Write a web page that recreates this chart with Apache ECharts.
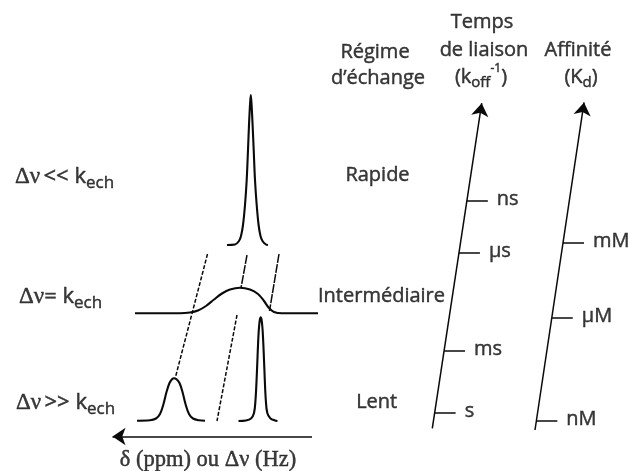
<!DOCTYPE html>
<html><head><meta charset="utf-8">
<script src="https://cdn.jsdelivr.net/npm/echarts/dist/echarts.min.js"></script>
<style>html,body{margin:0;padding:0;background:#fff}#c{width:628px;height:471px}</style>
</head><body><div id="c"></div>
<script>
// ---- Data (x = shift position, y = drawing depth) ----
const fastSpectrum = [[227,245],[235,244.5],[239,241],[241,236],[243,225],[245,205],[246.7,180],[248,150],[249,125],[250,105],[250.8,95],[251.6,105],[252.6,125],[253.7,150],[255,180],[256.7,205],[258.6,225],[260.5,236],[262.5,241],[266,244.5],[268,245]];
const intermediateSpectrum = [[135,313.3],[180,313.3],[190,312.5],[198,310.5],[206,306],[214,299.5],[222,293.5],[230,289.5],[240,287.7],[250,289.5],[258,294],[264,301],[269,308],[274,312],[282,313.3],[318,313.3]];
const slowSpectrumA = [[137,420.7],[150,420.3],[156,418.5],[160,414],[163.5,404],[166.5,392],[169.5,383],[172,379.3],[174,378.3],[176.5,379.3],[179.5,383],[182.5,392],[185.5,404],[189,414],[193,418.5],[199,420.3],[205,420.7]];
const slowSpectrumB = [[238.5,421],[246,420.5],[251,418.5],[254,413],[255.5,400],[256.8,375],[257.8,350],[258.8,330],[259.8,320],[260.7,317.3],[261.6,320],[262.6,330],[263.6,350],[264.6,375],[265.8,400],[267.3,413],[270.5,418.5],[275,420.5],[277.5,421]];
const guideLineA = [[207.5,254],[175.5,377]];
const guideLineB = [[247,255],[241,288]];
const guideLineC = [[279,254],[269.5,311]];
const guideLineD = [[237,315],[217,421]];

const regimeLabels = ['Rapide','Intermédiaire','Lent'];
const timeTickLabels = ['ns','μs','ms','s'];
const timeTickLevels = [201,253,351,413];
const affinityTickLabels = ['mM','μM','nM'];
const affinityTickLevels = [243,318,421];

// ---- Layout ----
const INK = '#0a0a0a';
const SANS = 'Open Sans';
const SERIF = 'Liberation Serif';
const timeAxis = {bottom:[432.3,428.3], tip:[482.7,96.7]};
const affAxis = {bottom:[535,430], tip:[585,96]};
const deltaAxis = {start:[312,436.5], tip:[106,436.5]};
function axisX(ax, y){const [x0,y0]=ax.bottom,[x1,y1]=ax.tip;return x0+(y-y0)*(x1-x0)/(y1-y0);}
function shorten(a,b,d){const dx=b[0]-a[0],dy=b[1]-a[1],L=Math.hypot(dx,dy);return [b[0]-dx/L*d,b[1]-dy/L*d];}
const ARROW = 13;

const B = {color:INK,textBorderColor:INK,textBorderWidth:0.45};
const rich = {
  g:Object.assign({fontFamily:SERIF,fontSize:23,lineHeight:26},B),
  G:Object.assign({fontFamily:SERIF,fontSize:22.5,lineHeight:26},B),
  k:Object.assign({fontFamily:SANS,fontSize:22,lineHeight:26},B),
  e:Object.assign({fontFamily:SANS,fontSize:17,lineHeight:20,padding:[13,0,0,0]},B),
  n:Object.assign({fontFamily:SANS,fontSize:20,lineHeight:24},B),
  s:Object.assign({fontFamily:SANS,fontSize:15,lineHeight:18,padding:[12,0,0,0]},B),
  p:Object.assign({fontFamily:SANS,fontSize:12,lineHeight:14,padding:[0,0,16,0]},B)
};
const texts = [];
function addText(x,y,fmt,pos){texts.push({value:[x,y],label:{formatter:fmt,position:pos||'inside',distance:0}});}
addText(15,177,'{g|Δν} {k|<< k}{e|ech}','right');
addText(19,297,'{g|Δν}{k|= k}{e|ech}','right');
addText(16,403,'{g|Δν} {k|>> k}{e|ech}','right');
addText(208,460,'{G|δ (ppm) ou Δν (Hz)}');
addText(375,52,'{n|Régime}');
addText(378,78,'{n|d’échange}');
addText(482,22,'{n|Temps}');
addText(484,50,'{n|de liaison}');
addText(481,77,'{n|(k}{s|off}{p|-1}{n|)}');
addText(578,50,'{n|Affinité}');
addText(581,77,'{n|(K}{s|d}{n|)}');
const regimeLevels = [175,296,402.5];
const regimeCenters = [377.5,381.5,376.7];
regimeLabels.forEach((t,i)=>addText(regimeCenters[i],regimeLevels[i],'{n|'+t+'}'));

const TICK = 21, GAP = 9;
const tickSegs = [];
timeTickLevels.forEach((y,i)=>{const x=axisX(timeAxis,y);tickSegs.push({coords:[[x,y],[x+TICK,y]]});addText(x+TICK+GAP,y-1.5,'{n|'+timeTickLabels[i]+'}','right');});
affinityTickLevels.forEach((y,i)=>{const x=axisX(affAxis,y);tickSegs.push({coords:[[x,y],[x+TICK,y]]});addText(x+TICK+GAP,y-1.5,'{n|'+affinityTickLabels[i]+'}','right');});

function spectrum(d){return {type:'line',data:d,showSymbol:false,smooth:0.35,lineStyle:{color:INK,width:2.1},silent:true,z:3};}
function guide(d,dash){return {type:'line',data:d,showSymbol:false,lineStyle:{color:INK,width:1.5,type:dash},silent:true,z:2};}

const option = {
  animation:false,
  backgroundColor:'#fff',
  grid:{left:0,right:0,top:0,bottom:0,containLabel:false},
  xAxis:{type:'value',min:0,max:628,show:false},
  yAxis:{type:'value',min:0,max:471,inverse:true,show:false},
  series:[
    spectrum(fastSpectrum),spectrum(intermediateSpectrum),spectrum(slowSpectrumA),spectrum(slowSpectrumB),
    guide(guideLineA,[4,1.8]),guide(guideLineB,[9,1.2]),guide(guideLineC,[9,1.2]),guide(guideLineD,[4,1.8]),
    {type:'lines',coordinateSystem:'cartesian2d',silent:true,symbol:['none','arrow'],symbolSize:ARROW,
     lineStyle:{color:INK,width:1.5,opacity:1},
     data:[
       {coords:[timeAxis.bottom,shorten(timeAxis.bottom,timeAxis.tip,ARROW/2)]},
       {coords:[affAxis.bottom,shorten(affAxis.bottom,affAxis.tip,ARROW/2)]},
       {coords:[deltaAxis.start,shorten(deltaAxis.start,deltaAxis.tip,ARROW/2)]}
     ]},
    {type:'lines',coordinateSystem:'cartesian2d',silent:true,symbol:['none','none'],
     lineStyle:{color:INK,width:1.5,opacity:1},data:tickSegs},
    {type:'scatter',symbolSize:0,silent:true,data:texts,
     label:{show:true,rich:rich,color:INK}}
  ]
};
const chart = echarts.init(document.getElementById('c'),null,{renderer:'canvas'});
chart.setOption(option);
</script>
</body></html>
